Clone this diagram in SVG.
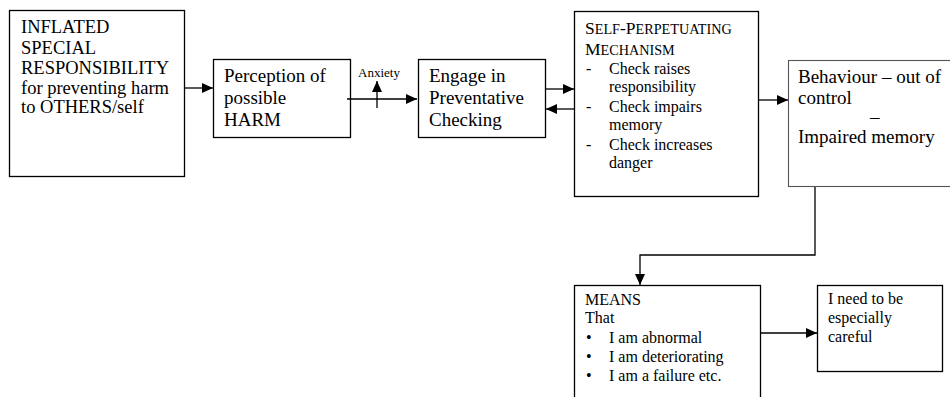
<svg xmlns="http://www.w3.org/2000/svg" width="950" height="397" viewBox="0 0 950 397">
<style>
text{font-family:"Liberation Serif","Times New Roman",serif;fill:#000}
.box{fill:#fff;stroke:#000;stroke-width:1.3}
.soft{fill:#fff;stroke:#555;stroke-width:1.1}
.f19{font-size:19px}
.f18{font-size:18.5px}
.f16{font-size:16px}
.f13{font-size:13px}
.cap{font-size:17.5px}
.sc{font-size:14.2px}
.con{fill:none;stroke:#000;stroke-width:1.3}
</style>
<defs>
<marker id="ah" markerUnits="userSpaceOnUse" markerWidth="11" markerHeight="10" refX="11" refY="5" orient="auto">
<path d="M0,0 L11,5 L0,10 z" fill="#000"/>
</marker>
</defs>
<rect width="950" height="397" fill="#fff"/>

<g id="n1">
<rect class="box" x="9.5" y="10.5" width="175" height="166"/>
<text class="f18" x="21" y="33">INFLATED</text>
<text class="f18" x="21" y="54">SPECIAL</text>
<text class="f18" x="21" y="74">RESPONSIBILITY</text>
<text class="f18" x="21" y="94">for preventing harm</text>
<text class="f18" x="21" y="113">to OTHERS/self</text>
</g>

<g id="n2">
<rect class="box" x="213.5" y="59.5" width="137" height="78"/>
<text class="f19" x="224" y="82">Perception of</text>
<text class="f19" x="224" y="104">possible</text>
<text class="f19" x="224" y="126">HARM</text>
</g>

<g id="n3">
<rect class="box" x="418.5" y="59.5" width="127" height="78"/>
<text class="f19" x="429" y="82">Engage in</text>
<text class="f19" x="429" y="104">Preventative</text>
<text class="f19" x="429" y="126">Checking</text>
</g>

<g id="n4">
<rect class="box" x="574.5" y="11.5" width="184" height="185"/>
<text class="cap" x="585" y="34">S<tspan class="sc">ELF</tspan>-P<tspan class="sc">ERPETUATING</tspan></text>
<text class="cap" x="585" y="55">M<tspan class="sc">ECHANISM</tspan></text>
<text class="f16" x="586" y="74">-</text>
<text class="f16" x="609" y="74">Check raises</text>
<text class="f16" x="609" y="92">responsibility</text>
<text class="f16" x="586" y="112">-</text>
<text class="f16" x="609" y="112">Check impairs</text>
<text class="f16" x="609" y="130">memory</text>
<text class="f16" x="586" y="150">-</text>
<text class="f16" x="609" y="150">Check increases</text>
<text class="f16" x="609" y="168">danger</text>
</g>

<g id="n5">
<rect class="soft" x="788.5" y="60.5" width="170" height="126"/>
<text class="f19" x="798" y="83">Behaviour – out of</text>
<text class="f19" x="798" y="104">control</text>
<text class="f19" x="870" y="123">–</text>
<text class="f19" x="798" y="143">Impaired memory</text>
</g>

<g id="n6">
<rect class="box" x="574.5" y="285.5" width="186" height="120"/>
<text class="f16" x="585" y="305">MEANS</text>
<text class="f16" x="585" y="323">That</text>
<text class="f16" x="586" y="343">•</text>
<text class="f16" x="609" y="343">I am abnormal</text>
<text class="f16" x="586" y="362">•</text>
<text class="f16" x="609" y="362">I am deteriorating</text>
<text class="f16" x="586" y="381">•</text>
<text class="f16" x="609" y="381">I am a failure etc.</text>
</g>

<g id="n7">
<rect class="box" x="817.5" y="285.5" width="125" height="86"/>
<text class="f16" x="828" y="304">I need to be</text>
<text class="f16" x="828" y="323">especially</text>
<text class="f16" x="828" y="342">careful</text>
</g>

<g id="anxiety-label">
<text class="f13" x="358" y="77">Anxiety</text>
</g>

<g id="connectors">
<line class="con" x1="185" y1="88" x2="213" y2="88" marker-end="url(#ah)"/>
<line class="con" x1="347" y1="99" x2="417" y2="99" marker-end="url(#ah)"/>
<line class="con" x1="377" y1="108" x2="377" y2="81" marker-end="url(#ah)"/>
<line class="con" x1="546" y1="89" x2="574" y2="89" marker-end="url(#ah)"/>
<line class="con" x1="574" y1="109" x2="546" y2="109" marker-end="url(#ah)"/>
<line class="con" x1="759" y1="100" x2="788" y2="100" marker-end="url(#ah)"/>
<polyline class="con" points="815,187 815,255 640,255 640,285" marker-end="url(#ah)"/>
<line class="con" x1="761" y1="333" x2="817" y2="333" marker-end="url(#ah)"/>
</g>
</svg>
